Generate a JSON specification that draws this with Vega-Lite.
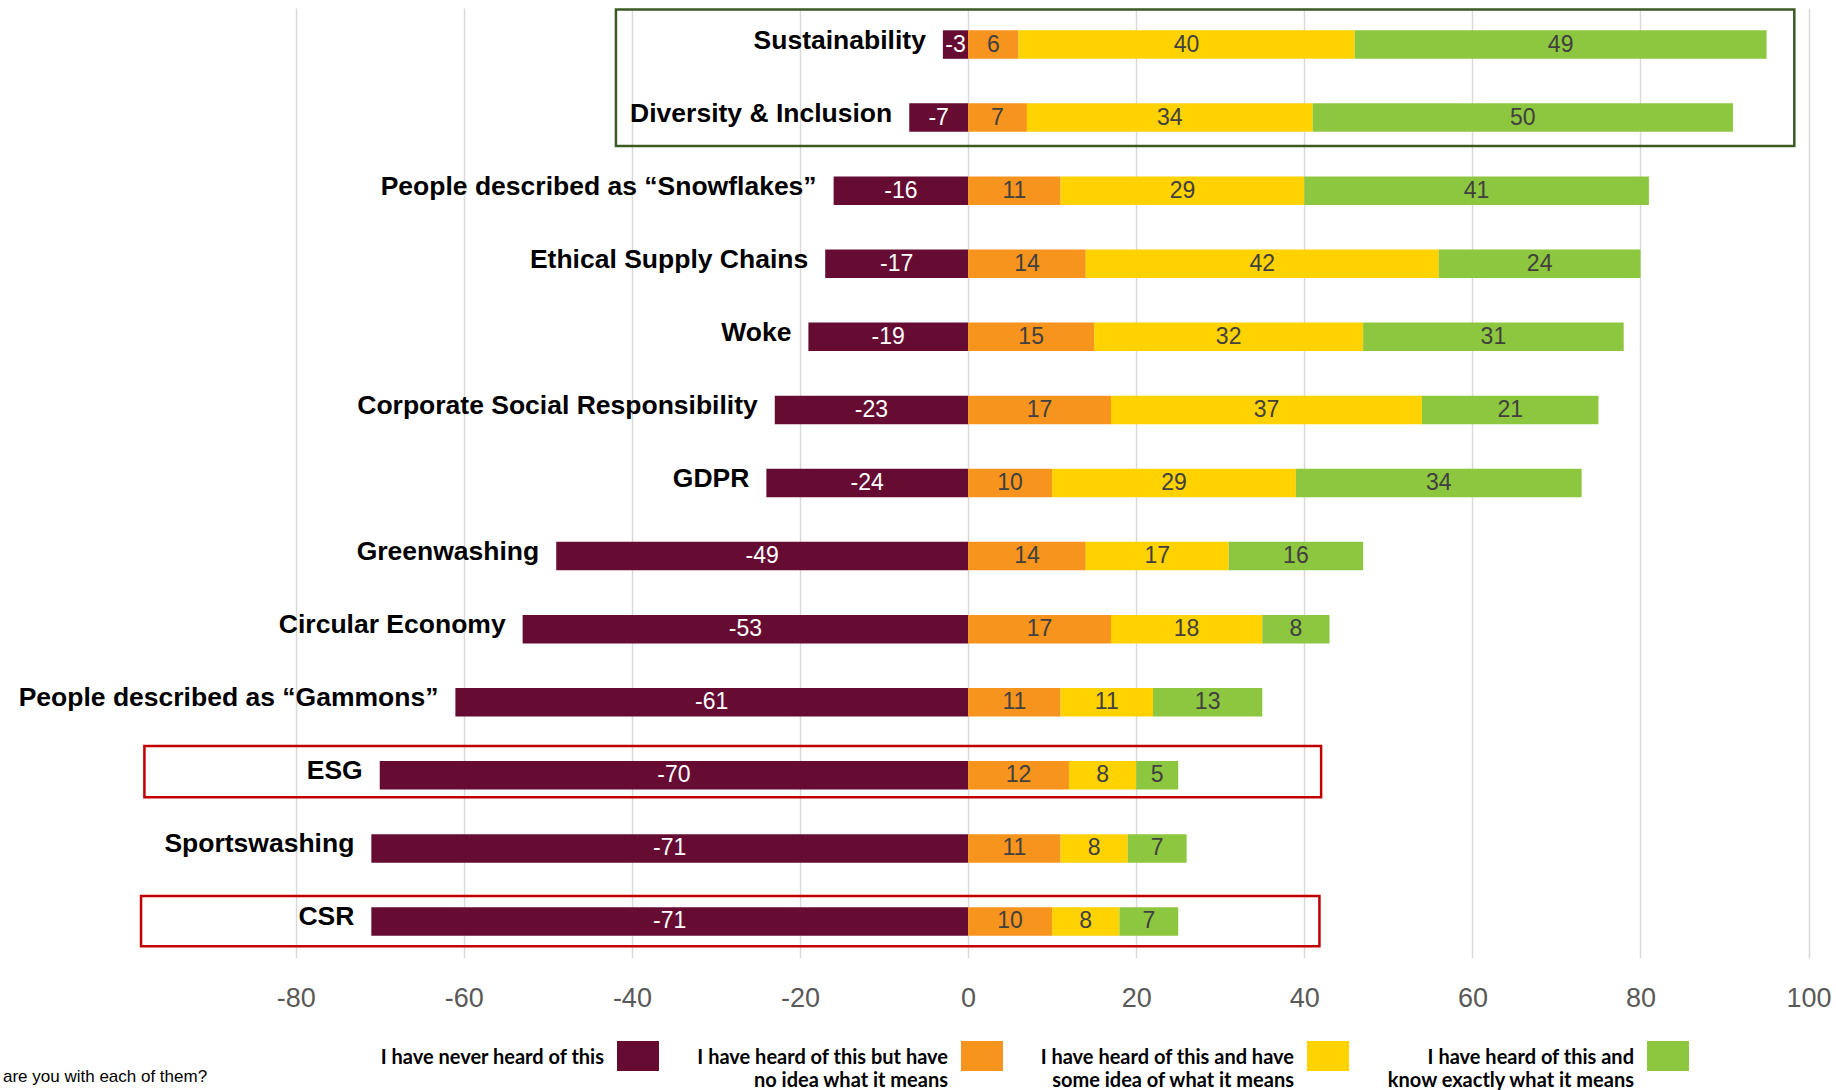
{
  "$schema": "https://vega.github.io/schema/vega-lite/v6.json",
  "width": 1836,
  "height": 950,
  "padding": {"left": 0, "right": 0, "top": 8, "bottom": 0},
  "background": "white",
  "config": {"view": {"stroke": null}},
  "title": {"text": "are you with each of them?", "orient": "bottom", "anchor": "start", "dx": 3, "offset": -22, "font": "Liberation Sans", "fontSize": 17, "fontWeight": "normal", "color": "#000000", "baseline": "top"},
  "datasets": {
    "bars": [
      {"term": "Sustainability", "response": "I have never heard of this", "rank": 1, "pct": -3},
      {"term": "Sustainability", "response": "I have heard of this but have no idea what it means", "rank": 2, "pct": 6},
      {"term": "Sustainability", "response": "I have heard of this and have some idea of what it means", "rank": 3, "pct": 40},
      {"term": "Sustainability", "response": "I have heard of this and know exactly what it means", "rank": 4, "pct": 49},
      {"term": "Diversity & Inclusion", "response": "I have never heard of this", "rank": 1, "pct": -7},
      {"term": "Diversity & Inclusion", "response": "I have heard of this but have no idea what it means", "rank": 2, "pct": 7},
      {"term": "Diversity & Inclusion", "response": "I have heard of this and have some idea of what it means", "rank": 3, "pct": 34},
      {"term": "Diversity & Inclusion", "response": "I have heard of this and know exactly what it means", "rank": 4, "pct": 50},
      {"term": "People described as “Snowflakes”", "response": "I have never heard of this", "rank": 1, "pct": -16},
      {"term": "People described as “Snowflakes”", "response": "I have heard of this but have no idea what it means", "rank": 2, "pct": 11},
      {"term": "People described as “Snowflakes”", "response": "I have heard of this and have some idea of what it means", "rank": 3, "pct": 29},
      {"term": "People described as “Snowflakes”", "response": "I have heard of this and know exactly what it means", "rank": 4, "pct": 41},
      {"term": "Ethical Supply Chains", "response": "I have never heard of this", "rank": 1, "pct": -17},
      {"term": "Ethical Supply Chains", "response": "I have heard of this but have no idea what it means", "rank": 2, "pct": 14},
      {"term": "Ethical Supply Chains", "response": "I have heard of this and have some idea of what it means", "rank": 3, "pct": 42},
      {"term": "Ethical Supply Chains", "response": "I have heard of this and know exactly what it means", "rank": 4, "pct": 24},
      {"term": "Woke", "response": "I have never heard of this", "rank": 1, "pct": -19},
      {"term": "Woke", "response": "I have heard of this but have no idea what it means", "rank": 2, "pct": 15},
      {"term": "Woke", "response": "I have heard of this and have some idea of what it means", "rank": 3, "pct": 32},
      {"term": "Woke", "response": "I have heard of this and know exactly what it means", "rank": 4, "pct": 31},
      {"term": "Corporate Social Responsibility", "response": "I have never heard of this", "rank": 1, "pct": -23},
      {"term": "Corporate Social Responsibility", "response": "I have heard of this but have no idea what it means", "rank": 2, "pct": 17},
      {"term": "Corporate Social Responsibility", "response": "I have heard of this and have some idea of what it means", "rank": 3, "pct": 37},
      {"term": "Corporate Social Responsibility", "response": "I have heard of this and know exactly what it means", "rank": 4, "pct": 21},
      {"term": "GDPR", "response": "I have never heard of this", "rank": 1, "pct": -24},
      {"term": "GDPR", "response": "I have heard of this but have no idea what it means", "rank": 2, "pct": 10},
      {"term": "GDPR", "response": "I have heard of this and have some idea of what it means", "rank": 3, "pct": 29},
      {"term": "GDPR", "response": "I have heard of this and know exactly what it means", "rank": 4, "pct": 34},
      {"term": "Greenwashing", "response": "I have never heard of this", "rank": 1, "pct": -49},
      {"term": "Greenwashing", "response": "I have heard of this but have no idea what it means", "rank": 2, "pct": 14},
      {"term": "Greenwashing", "response": "I have heard of this and have some idea of what it means", "rank": 3, "pct": 17},
      {"term": "Greenwashing", "response": "I have heard of this and know exactly what it means", "rank": 4, "pct": 16},
      {"term": "Circular Economy", "response": "I have never heard of this", "rank": 1, "pct": -53},
      {"term": "Circular Economy", "response": "I have heard of this but have no idea what it means", "rank": 2, "pct": 17},
      {"term": "Circular Economy", "response": "I have heard of this and have some idea of what it means", "rank": 3, "pct": 18},
      {"term": "Circular Economy", "response": "I have heard of this and know exactly what it means", "rank": 4, "pct": 8},
      {"term": "People described as “Gammons”", "response": "I have never heard of this", "rank": 1, "pct": -61},
      {"term": "People described as “Gammons”", "response": "I have heard of this but have no idea what it means", "rank": 2, "pct": 11},
      {"term": "People described as “Gammons”", "response": "I have heard of this and have some idea of what it means", "rank": 3, "pct": 11},
      {"term": "People described as “Gammons”", "response": "I have heard of this and know exactly what it means", "rank": 4, "pct": 13},
      {"term": "ESG", "response": "I have never heard of this", "rank": 1, "pct": -70},
      {"term": "ESG", "response": "I have heard of this but have no idea what it means", "rank": 2, "pct": 12},
      {"term": "ESG", "response": "I have heard of this and have some idea of what it means", "rank": 3, "pct": 8},
      {"term": "ESG", "response": "I have heard of this and know exactly what it means", "rank": 4, "pct": 5},
      {"term": "Sportswashing", "response": "I have never heard of this", "rank": 1, "pct": -71},
      {"term": "Sportswashing", "response": "I have heard of this but have no idea what it means", "rank": 2, "pct": 11},
      {"term": "Sportswashing", "response": "I have heard of this and have some idea of what it means", "rank": 3, "pct": 8},
      {"term": "Sportswashing", "response": "I have heard of this and know exactly what it means", "rank": 4, "pct": 7},
      {"term": "CSR", "response": "I have never heard of this", "rank": 1, "pct": -71},
      {"term": "CSR", "response": "I have heard of this but have no idea what it means", "rank": 2, "pct": 10},
      {"term": "CSR", "response": "I have heard of this and have some idea of what it means", "rank": 3, "pct": 8},
      {"term": "CSR", "response": "I have heard of this and know exactly what it means", "rank": 4, "pct": 7}
    ],
    "boxes": [
      {"kind": "top", "xa": -41.9, "xb": 98.3, "ya": 0.02, "yb": 1.89},
      {"kind": "bottom", "xa": -98.0, "xb": 42.0, "ya": 10.1, "yb": 10.8},
      {"kind": "bottom", "xa": -98.4, "xb": 41.8, "ya": 12.15, "yb": 12.84}
    ]
  },
  "layer": [
    {
      "data": {"name": "bars"},
      "layer": [
        {
          "transform": [
            {"stack": "pct", "groupby": ["term"], "sort": [{"field": "rank", "order": "ascending"}], "as": ["x0", "x1"]}
          ],
          "mark": {"type": "bar"},
          "encoding": {
            "y": {
              "field": "term", "type": "nominal",
              "sort": ["Sustainability", "Diversity & Inclusion", "People described as “Snowflakes”", "Ethical Supply Chains", "Woke", "Corporate Social Responsibility", "GDPR", "Greenwashing", "Circular Economy", "People described as “Gammons”", "ESG", "Sportswashing", "CSR"],
              "scale": {"paddingInner": 0.61, "paddingOuter": 0.305},
              "axis": null
            },
            "x": {
              "field": "x0", "type": "quantitative",
              "scale": {"domain": [-115.18, 103.26], "nice": false, "zero": false},
              "axis": {
                "values": [-80, -60, -40, -20, 0, 20, 40, 60, 80, 100],
                "title": null, "grid": true, "gridColor": "#D9D9D9", "gridWidth": 1.5,
                "domain": false, "ticks": false, "tickSize": 0,
                "labelFont": "Liberation Sans", "labelFontSize": 27, "labelColor": "#595959",
                "labelPadding": 27, "labelFlush": false,
                "labelExpr": "'' + datum.value"
              }
            },
            "x2": {"field": "x1"},
            "color": {
              "field": "response", "type": "nominal",
              "scale": {
                "domain": ["I have never heard of this", "I have heard of this but have no idea what it means", "I have heard of this and have some idea of what it means", "I have heard of this and know exactly what it means"],
                "range": ["#660C33", "#F7941D", "#FFD200", "#8DC63F"]
              },
              "legend": {
                "orient": "none", "legendX": 617, "legendY": 1027,
                "direction": "horizontal", "title": null,
                "symbolType": "M-1,-0.714H1V0.714H-1Z", "symbolSize": 1764, "symbolStrokeWidth": 0, "symbolOpacity": 1,
                "labelAlign": "right", "labelOffset": -55, "labelBaseline": "top",
                "labelFont": "Lato", "labelFontWeight": "bold", "labelFontSize": 20, "labelColor": "#000000",
                "labelLimit": 500, "columnPadding": 37,
                "labelExpr": "datum.label == 'I have heard of this but have no idea what it means' ? ['I have heard of this but have', 'no idea what it means'] : datum.label == 'I have heard of this and have some idea of what it means' ? ['I have heard of this and have', 'some idea of what it means'] : datum.label == 'I have heard of this and know exactly what it means' ? ['I have heard of this and', 'know exactly what it means'] : [datum.label, ' ']",
                "encode": {"labels": {"update": {"dy": {"value": -8}, "lineHeight": {"value": 23}}}}
              }
            }
          }
        },
        {
          "transform": [
            {"stack": "pct", "groupby": ["term"], "sort": [{"field": "rank", "order": "ascending"}], "as": ["x0", "x1"]},
            {"fold": ["x0", "x1"], "as": ["edge", "pos"]}
          ],
          "mark": {"type": "text", "font": "Liberation Sans", "fontSize": 23},
          "encoding": {
            "y": {"field": "term", "type": "nominal", "sort": ["Sustainability", "Diversity & Inclusion", "People described as “Snowflakes”", "Ethical Supply Chains", "Woke", "Corporate Social Responsibility", "GDPR", "Greenwashing", "Circular Economy", "People described as “Gammons”", "ESG", "Sportswashing", "CSR"]},
            "x": {"aggregate": "mean", "field": "pos", "type": "quantitative"},
            "detail": {"field": "response"},
            "text": {"field": "pct", "type": "nominal"},
            "color": {"condition": {"test": "datum.pct < 0", "value": "#FFFFFF"}, "value": "#404040"}
          }
        },
        {
          "transform": [{"filter": "datum.rank == 1"}],
          "mark": {"type": "text", "align": "right", "dx": -17, "dy": -4, "font": "Liberation Sans", "fontWeight": "bold", "fontSize": 26.5, "color": "#000000"},
          "encoding": {
            "y": {"field": "term", "type": "nominal", "sort": ["Sustainability", "Diversity & Inclusion", "People described as “Snowflakes”", "Ethical Supply Chains", "Woke", "Corporate Social Responsibility", "GDPR", "Greenwashing", "Circular Economy", "People described as “Gammons”", "ESG", "Sportswashing", "CSR"]},
            "x": {"field": "pct", "type": "quantitative"},
            "text": {"field": "term"}
          }
        }
      ]
    },
    {
      "data": {"name": "boxes"},
      "mark": {"type": "rect", "filled": false, "strokeWidth": 2.5},
      "encoding": {
        "x": {"field": "xa", "type": "quantitative"},
        "x2": {"field": "xb"},
        "y": {"field": "ya", "type": "quantitative", "scale": {"domain": [0, 13], "reverse": true, "nice": false, "zero": false}, "axis": null},
        "y2": {"field": "yb"},
        "stroke": {"field": "kind", "type": "nominal", "scale": {"domain": ["top", "bottom"], "range": ["#3B5A24", "#C00000"]}, "legend": null}
      }
    }
  ],
  "resolve": {"scale": {"y": "independent"}, "axis": {"y": "independent"}}
}
